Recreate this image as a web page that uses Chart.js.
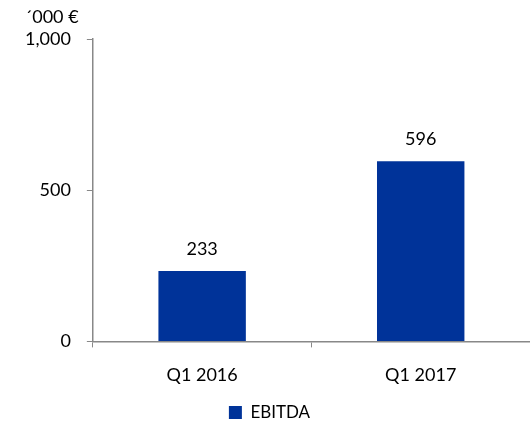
<!DOCTYPE html>
<html>
<head>
<meta charset="utf-8">
<script src="https://cdn.jsdelivr.net/npm/chart.js@4"></script>
<style>
  html, body { margin: 0; padding: 0; background: #fff; }
  #wrap { width: 530px; height: 423px; }
</style>
</head>
<body>
<div id="wrap"><canvas id="chart" width="530" height="423"></canvas></div>
<script>
const categories = ['Q1 2016', 'Q1 2017'];
const ebitda = [233, 596];
const yTicks = [0, 500, 1000];
const unitLabel = '´000 €';

const FONT = 'Lato, "Liberation Sans", sans-serif';

// value labels above bars + unit label above the y axis
const valueLabels = {
    id: 'valueLabels',
    afterDatasetsDraw(chart) {
        const ctx = chart.ctx;
        const meta = chart.getDatasetMeta(0);
        ctx.save();
        ctx.font = '18px ' + FONT;
        ctx.fillStyle = '#000';
        ctx.textAlign = 'center';
        ctx.textBaseline = 'bottom';
        meta.data.forEach((bar, i) => {
            ctx.fillText(ebitda[i], bar.x, bar.y - 13);
        });
        ctx.textAlign = 'left';
        ctx.textBaseline = 'middle';
        ctx.fillText(unitLabel, 25, 17);
        ctx.restore();
    }
};

const chart = document.querySelector('#chart').getContext('2d');
new Chart(chart, {
    type: 'bar',
    data: {
        labels: categories,
        datasets: [{
            label: 'EBITDA',
            data: ebitda,
            backgroundColor: '#003399',
            barPercentage: 0.8,
            categoryPercentage: 0.5
        }]
    },
    options: {
        responsive: false,
        animation: false,
        layout: { padding: { left: 9, right: 0, top: 39, bottom: -8 } },
        plugins: {
            legend: {
                position: 'bottom',
                labels: {
                    color: '#000',
                    boxWidth: 13,
                    boxHeight: 13,
                    padding: 1,
                    font: { family: FONT, size: 17 }
                }
            },
            tooltip: { enabled: false }
        },
        scales: {
            x: {
                grid: {
                    display: true,
                    drawOnChartArea: false,
                    offset: true,
                    tickLength: 6,
                    color: '#888'
                },
                border: { color: '#888', width: 1.5 },
                ticks: {
                    color: '#000',
                    padding: 17,
                    font: { family: FONT, size: 18 }
                }
            },
            y: {
                min: 0,
                max: 1000,
                afterBuildTicks(axis) {
                    axis.ticks = yTicks.map(v => ({ value: v }));
                },
                grid: {
                    display: true,
                    drawOnChartArea: false,
                    tickLength: 6,
                    color: '#888'
                },
                border: { color: '#888', width: 1.5 },
                ticks: {
                    color: '#000',
                    padding: 16,
                    font: { family: FONT, size: 18 },
                    callback: v => v.toLocaleString('en-US')
                }
            }
        }
    },
    plugins: [valueLabels]
});
</script>
</body>
</html>
